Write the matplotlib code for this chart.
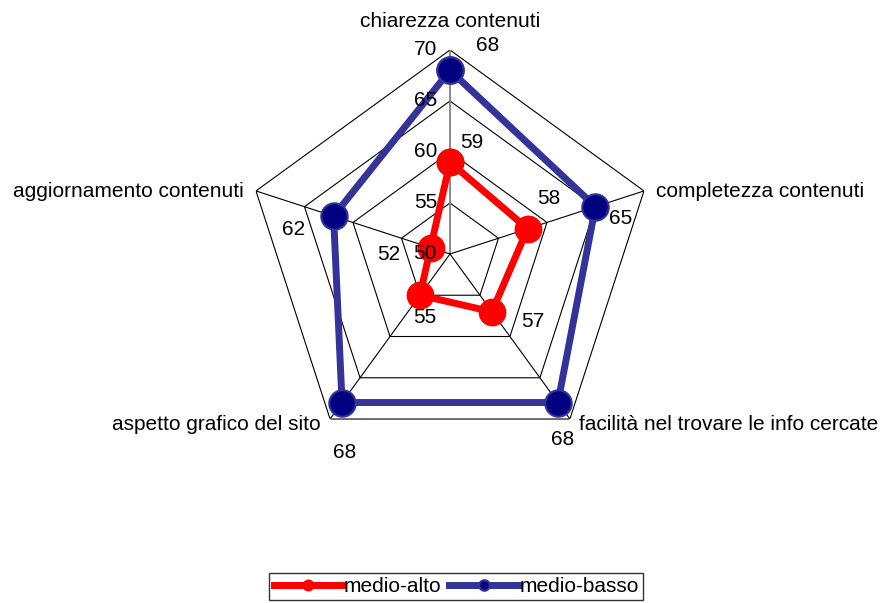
import numpy as np
import matplotlib
matplotlib.use("Agg")
import matplotlib.pyplot as plt

plt.rcParams['font.family'] = ['Liberation Sans', 'DejaVu Sans']

categories = ["chiarezza contenuti", "completezza contenuti",
              "facilità nel trovare le info cercate", "aspetto grafico del sito",
              "aggiornamento contenuti"]
medio_alto = [59, 58, 57, 55, 52]
medio_basso = [68, 65, 68, 68, 62]
ticks = [50, 55, 60, 65, 70]

fig = plt.figure(figsize=(8.87, 6.03), dpi=100)
ax = fig.add_axes([0.2773, 0.2405, 0.46, 0.6766], projection='polar')
ax.set_theta_offset(np.pi / 2)
ax.set_theta_direction(-1)
ax.set_ylim(50, 70)
ax.grid(False)
ax.spines['polar'].set_visible(False)
ax.set_xticks([])
ax.set_yticks([])
ax.patch.set_visible(False)

n = len(categories)
theta = np.arange(n) * 2 * np.pi / n
theta_c = np.append(theta, theta[0])

# polygon grid
for t in ticks[1:]:
    ax.plot(theta_c, [t] * (n + 1), color='black', lw=0.8, zorder=1)
for i, th in enumerate(theta):
    ax.plot([th, th], [50, 70], color='#808080' if i == 0 else 'black',
            lw=1.3 if i == 0 else 0.8, zorder=1)

# series
ax.plot(theta_c, medio_alto + medio_alto[:1], color='#FF0000', lw=5,
        marker='o', ms=19, mfc='#FF0000', mec='#FF0000', label='medio-alto',
        zorder=3, solid_joinstyle='miter')
ax.plot(theta_c, medio_basso + medio_basso[:1], color='#333399', lw=5,
        marker='o', ms=19, mfc='#000080', mec='#333399', mew=1.5,
        label='medio-basso', zorder=3, solid_joinstyle='miter')

fs = 15
# radial tick labels
for t in ticks:
    ax.annotate(str(t), xy=(0, t), xytext=(-13, 0), textcoords='offset pixels',
                ha='right', va='center', fontsize=fs)

# category labels
cat_off = [((0, 28), 'center', 'center'),
           ((12, -1), 'left', 'center'),
           ((9, -5), 'left', 'center'),
           ((-9, -5), 'right', 'center'),
           ((-12, -1), 'right', 'center')]
for th, lab, (off, ha, va) in zip(theta, categories, cat_off):
    ax.annotate(lab, xy=(th, 70), xytext=off, textcoords='offset pixels',
                ha=ha, va=va, fontsize=fs)

# data labels
off_basso = [(38, 25), (25, -12), (5, -37), (3, -50), (-40, -13)]
off_alto = [(22, 20), (21, 30), (41, -10), (5, -22), (-42, -7)]
for th, v, off in zip(theta, medio_basso, off_basso):
    ax.annotate(str(v), xy=(th, v), xytext=off, textcoords='offset pixels',
                ha='center', va='center', fontsize=fs, zorder=5)
for th, v, off in zip(theta, medio_alto, off_alto):
    ax.annotate(str(v), xy=(th, v), xytext=off, textcoords='offset pixels',
                ha='center', va='center', fontsize=fs, zorder=5)

leg = fig.legend(loc='upper center', bbox_to_anchor=(456 / 887, 1 - 573 / 603),
                 ncol=2, fontsize=fs, frameon=True, fancybox=False,
                 handlelength=3.3, handletextpad=0.05, columnspacing=0.4,
                 markerscale=0.4, borderpad=0.2, borderaxespad=0)
leg.get_frame().set_edgecolor('black')
leg.get_frame().set_linewidth(1.0)

fig.savefig('out.png', dpi=100)
